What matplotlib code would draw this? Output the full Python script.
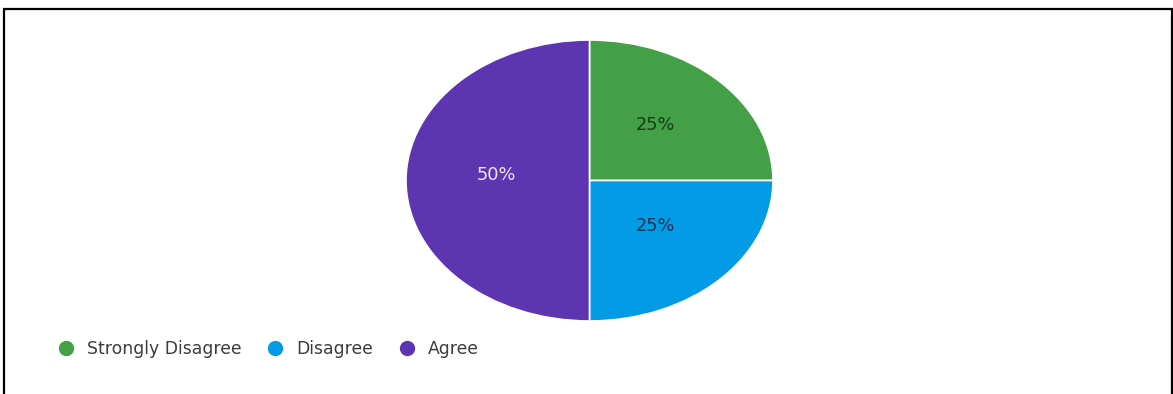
import matplotlib.pyplot as plt
from matplotlib.lines import Line2D
from matplotlib.patches import Rectangle

# Survey answers (share of responses, %)
categories = ['Strongly Disagree', 'Disagree', 'Agree']
shares = [25, 25, 50]
slice_colors = ['#43a047', '#039be5', '#5e35b1']
label_colors = ['#173d1a', '#0b3452', '#ece6f5']

W, H = 1173, 394
fig = plt.figure(figsize=(W / 100, H / 100), dpi=100)

# the pie in the screenshot is stretched sideways, so let the axes be non-square
ax = fig.add_axes([406 / W, (H - 321) / H, 367 / W, 281 / H])
wedges, texts, autotexts = ax.pie(
    shares, colors=slice_colors, startangle=90, counterclock=False,
    autopct='%d%%', pctdistance=0.51,
    wedgeprops=dict(edgecolor='white', linewidth=1.2),
    textprops=dict(fontsize=12.8, family='DejaVu Sans'))
for t, c in zip(autotexts, label_colors):
    t.set_color(c)
    t.set_va('baseline')
ax.set_aspect('auto')
ax.set_xlim(-1.0, 1.0)
ax.set_ylim(-1.0, 1.0)
ax.axis('off')

# legend along the bottom left
handles = [Line2D([], [], marker='o', linestyle='none', markersize=10,
                  markerfacecolor=c, markeredgecolor=c) for c in slice_colors]
fig.legend(handles, categories, ncol=3, frameon=False,
           loc='center left', bbox_to_anchor=(57.5 / W, (H - 349) / H),
           borderpad=0, borderaxespad=0, handlelength=1.0,
           handletextpad=0.72, columnspacing=1.45,
           prop=dict(size=12.4, family='DejaVu Sans'), labelcolor='#3c3c3c')

# screenshot frame
fig.patches.append(Rectangle((4 / W, -0.1), (1172 - 4) / W, 1.1 - 8.5 / H,
                             transform=fig.transFigure, fill=False,
                             edgecolor='black', linewidth=1.6))

fig.savefig('out.png', dpi=100)
